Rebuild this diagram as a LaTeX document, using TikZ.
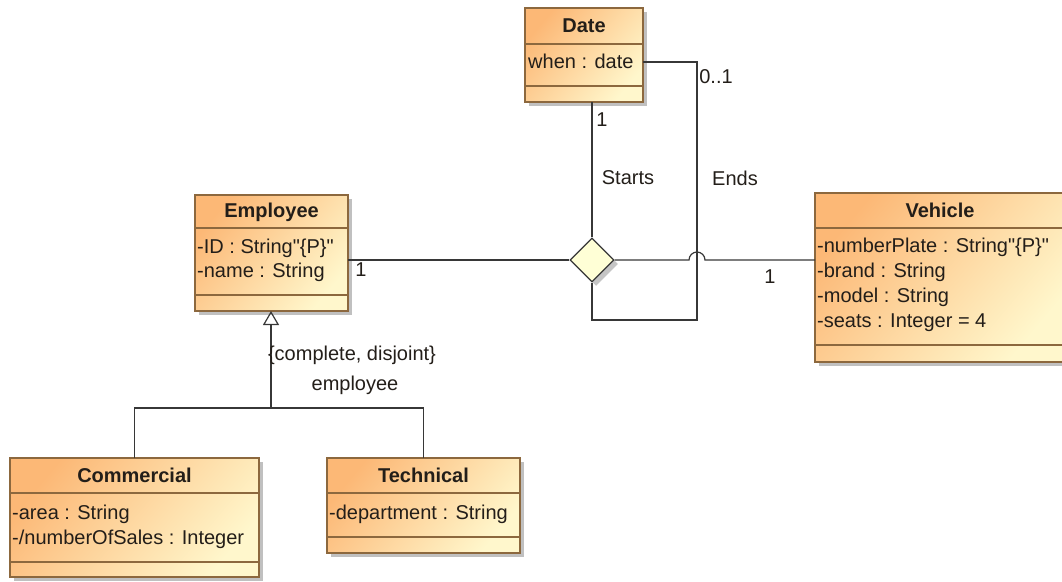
\documentclass[tikz,border=0pt]{standalone}
\usepackage{fontspec}
\setmainfont{Liberation Sans}[Ligatures=TeXOff]
\usetikzlibrary{shadows,arrows.meta,shapes.geometric}
\definecolor{boxtop}{RGB}{252,184,118}
\definecolor{boxbot}{RGB}{255,247,204}
\definecolor{boxborder}{RGB}{140,104,62}
\definecolor{linecol}{RGB}{55,55,55}
\definecolor{diafill}{RGB}{255,255,214}
\definecolor{txt}{RGB}{35,30,25}
\begin{document}
\begin{tikzpicture}[x=1pt,y=-1pt,
  font=\fontsize{20}{24}\selectfont,
  umlbox/.style={draw=boxborder, line width=1.3pt, top color=boxtop, bottom color=boxbot, shading angle=50,
    drop shadow={shadow xshift=4pt, shadow yshift=-4pt, fill=black!45, opacity=0.55},
    anchor=north west, inner sep=0pt, outer sep=0pt},
  sepline/.style={draw=boxborder, line width=1.1pt},
  title/.style={anchor=base, font=\fontsize{20}{24}\selectfont\bfseries, text=txt, inner sep=0pt},
  attr/.style={anchor=base west, inner sep=0pt, text=txt},
  conn/.style={draw=linecol, line width=1.2pt},
  lbl/.style={inner sep=0pt, text=txt},
]
\useasboundingbox (0,0) rectangle (1062,581);

% Date
\node[umlbox, minimum width=118pt, minimum height=94pt] (date) at (525,8) {};
\draw[sepline] (525,44) -- (643,44);
\draw[sepline] (525,86) -- (643,86);
\node[title] (dateT) at (584,32) {Date};
\node[attr] (dateA) at (528,68) {when : date};

% Employee
\node[umlbox, minimum width=153pt, minimum height=116pt] (emp) at (195,195) {};
\draw[sepline] (195,228) -- (348,228);
\draw[sepline] (195,295) -- (348,295);
\node[title] (empT) at (271.5,217) {Employee};
\node[attr] (empA1) at (197,253) {-ID : String"\{P\}"};
\node[attr] (empA2) at (197,277) {-name : String};

% Vehicle
\node[umlbox, minimum width=250pt, minimum height=169pt] (veh) at (815,193) {};
\draw[sepline] (815,228) -- (1065,228);
\draw[sepline] (815,345) -- (1065,345);
\node[title] (vehT) at (940,217) {Vehicle};
\node[attr] (vehA1) at (817,252) {-numberPlate : String"\{P\}"};
\node[attr] (vehA2) at (817,277) {-brand : String};
\node[attr] (vehA3) at (817,302) {-model : String};
\node[attr] (vehA4) at (817,327) {-seats : Integer = 4};

% Commercial
\node[umlbox, minimum width=249pt, minimum height=119pt] (com) at (10,458) {};
\draw[sepline] (10,493) -- (259,493);
\draw[sepline] (10,562) -- (259,562);
\node[title] (comT) at (134.5,482) {Commercial};
\node[attr] (comA1) at (12,519) {-area : String};
\node[attr] (comA2) at (12,544) {-/numberOfSales : Integer};

% Technical
\node[umlbox, minimum width=193pt, minimum height=95pt] (tec) at (327,458) {};
\draw[sepline] (327,493) -- (520,493);
\draw[sepline] (327,537) -- (520,537);
\node[title] (tecT) at (423.5,482) {Technical};
\node[attr] (tecA) at (329,519) {-department : String};

% n-ary association diamond
\node[diamond, draw=linecol, line width=1.2pt, fill=diafill, minimum width=44pt, minimum height=44pt,
  inner sep=0pt, drop shadow={shadow xshift=4pt, shadow yshift=-4pt, fill=black!45, opacity=0.5}] (dia) at (592,260) {};

% connectors
\draw[conn] (dia.west) -- (dia.west -| emp.east);
\draw[conn] (dia.north) -- (dia.north |- date.south);
\coordinate (hopA) at (689,260);
\draw[conn] (dia.east) -- (hopA) arc[start angle=180, end angle=0, radius=8pt] -- (dia.east -| veh.west);
\coordinate (e1) at (697,320);
\coordinate (e2) at (697,62);
\draw[conn] (dia.south) |- (e1) -- (e2) -- (e2 -| date.east);

% generalization
\coordinate (gj) at (271,408);
\draw[conn, -{Triangle[open, length=14pt, width=16pt]}] (gj) -- (gj |- emp.south);
\draw[conn] (com.north) |- (gj) -| (tec.north);

% labels
\node[lbl] (m1) at (361,270) {1};
\node[lbl] (m2) at (770,277) {1};
\node[lbl] (m3) at (602,120) {1};
\node[lbl] (m4) at (716,77) {0..1};
\node[lbl] (starts) at (628,178) {Starts};
\node[lbl] (ends) at (735,178) {Ends};
\node[lbl] (gs) at (352,355) {\{complete, disjoint\}};
\node[lbl] (gn) at (355,385) {employee};
\end{tikzpicture}
\end{document}
